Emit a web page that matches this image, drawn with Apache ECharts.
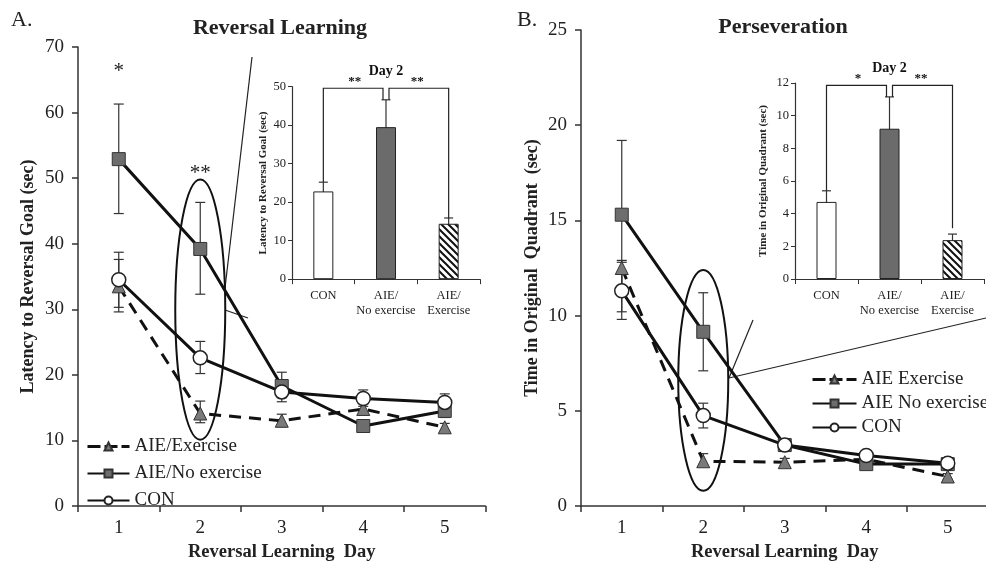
<!DOCTYPE html>
<html><head><meta charset="utf-8">
<script src="https://cdn.jsdelivr.net/npm/echarts@6/dist/echarts.min.js"></script>
<style>html,body{margin:0;padding:0;background:#fff}#c{width:986px;height:561px}</style>
</head><body><div id="c"></div>
<script>
// ---------- data ----------
const days = ['1', '2', '3', '4', '5'];
// Panel A: Reversal Learning (latency, sec)
const aExMean  = [33.5, 14.1, 13.0, 14.8, 12.0];
const aExLow   = [29.6, 12.7, 12.1, 14.0, 11.4];
const aExHigh  = [37.6, 16.0, 14.0, 15.6, 12.6];
const aNoMean  = [52.9, 39.2, 18.3, 12.2, 14.5];
const aNoLow   = [44.6, 32.3, 16.5, 11.6, 13.5];
const aNoHigh  = [61.3, 46.3, 20.4, 12.8, 15.5];
const aConMean = [34.5, 22.6, 17.4, 16.4, 15.8];
const aConLow  = [30.3, 20.2, 15.9, 15.2, 14.6];
const aConHigh = [38.7, 25.1, 18.9, 17.7, 17.1];
// Panel B: Perseveration (time in original quadrant, sec)
const bExMean  = [12.5, 2.35, 2.3, 2.45, 1.55];
const bExLow   = [10.2, 2.1, 2.1, 2.3, 1.4];
const bExHigh  = [12.9, 2.75, 2.5, 2.65, 1.7];
const bNoMean  = [15.3, 9.15, 3.2, 2.2, 2.2];
const bNoLow   = [11.4, 7.1, 3.0, 2.0, 2.0];
const bNoHigh  = [19.2, 11.2, 3.4, 2.4, 2.4];
const bConMean = [11.3, 4.75, 3.2, 2.65, 2.25];
const bConLow  = [9.8, 4.1, 3.0, 2.4, 2.1];
const bConHigh = [12.8, 5.4, 3.4, 2.9, 2.4];
// Insets: Day 2
const insetCats  = ['CON', 'AIE/\nNo exercise', 'AIE/\nExercise'];
const insetAMean = [22.8, 39.5, 14.4];
const insetALow  = [20.3, 32.3, 13.0];
const insetAHigh = [25.2, 46.6, 15.9];
const insetBMean = [4.72, 9.2, 2.38];
const insetBLow  = [4.08, 7.2, 2.0];
const insetBHigh = [5.4, 11.15, 2.75];
// Annotations
const aStars = [[0, 66.3, '*'], [1, 50.7, '**']];
const aEllipse = [1, 10.1, 49.8];   // category, bottom, top
const bEllipse = [1, 0.8, 12.4];
const aBracket = {top: 49.6, midDrop: 46.6, leftDrop: 25.2, rightDrop: 15.9, left: '**', right: '**'};
const bBracket = {top: 11.85, midDrop: 11.15, leftDrop: 5.4, rightDrop: 3.1, left: '*', right: '**'};

// ---------- helpers ----------
const SERIF = '"Liberation Serif", "DejaVu Serif", serif';
function hatch() {
  const c = document.createElement('canvas');
  c.width = 7; c.height = 7;
  const g = c.getContext('2d');
  g.fillStyle = '#fff'; g.fillRect(0, 0, 7, 7);
  g.strokeStyle = '#111'; g.lineWidth = 2;
  g.beginPath();
  g.moveTo(-1, -1); g.lineTo(8, 8);
  g.moveTo(-8, -1); g.lineTo(1, 8);
  g.moveTo(6, -1); g.lineTo(15, 8);
  g.stroke();
  return c;
}
function errData(lo, hi) { return lo.map((v, i) => [i, v, hi[i]]); }
function errSeries(xi, yi, lo, hi, cap, lw) {
  return {
    type: 'custom', xAxisIndex: xi, yAxisIndex: yi, z: 2, silent: true,
    data: errData(lo, hi),
    renderItem: function (params, api) {
      const p1 = api.coord([api.value(0), api.value(1)]);
      const p2 = api.coord([api.value(0), api.value(2)]);
      const h = cap / 2, st = {stroke: '#333', lineWidth: lw};
      return {type: 'group', children: [
        {type: 'line', shape: {x1: p1[0], y1: p1[1], x2: p2[0], y2: p2[1]}, style: st},
        {type: 'line', shape: {x1: p1[0] - h, y1: p1[1], x2: p1[0] + h, y2: p1[1]}, style: st},
        {type: 'line', shape: {x1: p2[0] - h, y1: p2[1], x2: p2[0] + h, y2: p2[1]}, style: st}
      ]};
    }
  };
}
function ellipseSeries(xi, yi, e) {
  return {
    type: 'custom', xAxisIndex: xi, yAxisIndex: yi, z: 1, silent: true,
    data: [e],
    renderItem: function (params, api) {
      const b = api.coord([api.value(0), api.value(1)]);
      const t = api.coord([api.value(0), api.value(2)]);
      return {type: 'ellipse', shape: {cx: b[0], cy: (b[1] + t[1]) / 2, rx: 25, ry: (b[1] - t[1]) / 2},
        style: {fill: 'none', stroke: '#111', lineWidth: 2}};
    }
  };
}
function bracketSeries(xi, yi, br) {
  return {
    type: 'custom', xAxisIndex: xi, yAxisIndex: yi, z: 3, silent: true,
    data: [[0, br.top]],
    renderItem: function (params, api) {
      const L = api.coord([0, br.leftDrop]), Lt = api.coord([0, br.top]);
      const M = api.coord([1, br.midDrop]), Mt = api.coord([1, br.top]);
      const R = api.coord([2, br.rightDrop]), Rt = api.coord([2, br.top]);
      const st = {stroke: '#222', lineWidth: 1.2, fill: 'none'};
      const ts = {fontFamily: SERIF, fontWeight: 'bold', fill: '#111', align: 'center', verticalAlign: 'middle'};
      return {type: 'group', children: [
        {type: 'polyline', shape: {points: [[L[0], L[1]], [L[0], Lt[1]], [M[0] - 3, Mt[1]], [M[0] - 3, M[1]]]}, style: st},
        {type: 'polyline', shape: {points: [[R[0], R[1]], [R[0], Rt[1]], [M[0] + 3, Mt[1]], [M[0] + 3, M[1]]]}, style: st},
        {type: 'text', x: (L[0] + M[0]) / 2, y: Lt[1] - 7, style: Object.assign({text: br.left, fontSize: 13}, ts)},
        {type: 'text', x: (R[0] + M[0]) / 2, y: Lt[1] - 7, style: Object.assign({text: br.right, fontSize: 13}, ts)},
        {type: 'text', x: M[0], y: Lt[1] - 17, style: Object.assign({text: 'Day 2', fontSize: 14}, ts)}
      ]};
    }
  };
}
function starSeries(xi, yi, stars) {
  return {
    type: 'custom', xAxisIndex: xi, yAxisIndex: yi, z: 3, silent: true,
    data: stars.map(s => [s[0], s[1]]),
    renderItem: function (params, api) {
      const p = api.coord([api.value(0), api.value(1)]);
      return {type: 'text', x: p[0], y: p[1], style: {text: stars[params.dataIndex][2], fontFamily: SERIF,
        fontSize: 21, fill: '#222', align: 'center', verticalAlign: 'middle'}};
    }
  };
}
const exStyle = {symbol: 'triangle', symbolSize: 13, itemStyle: {color: '#7a7a7a', borderColor: '#333', borderWidth: 1},
  lineStyle: {color: '#111', width: 3, type: [12, 8]}};
const noStyle = {symbol: 'rect', symbolSize: 13, itemStyle: {color: '#6d6d6d', borderColor: '#333', borderWidth: 1},
  lineStyle: {color: '#111', width: 3, type: 'solid'}};
const conStyle = {symbol: 'circle', symbolSize: 14, itemStyle: {color: '#fff', borderColor: '#222', borderWidth: 1.5},
  lineStyle: {color: '#111', width: 3, type: 'solid'}};
function lineSeries(name, xi, yi, data, st) {
  return Object.assign({type: 'line', name: name, xAxisIndex: xi, yAxisIndex: yi, data: data, z: 4,
    showSymbol: true, animation: false}, JSON.parse(JSON.stringify(st)));
}
const axisLineStyle = {lineStyle: {color: '#333', width: 1.5}};
function mainX(gi, name) {
  return {type: 'category', gridIndex: gi, data: days, boundaryGap: true,
    axisLine: axisLineStyle, axisTick: {show: true, length: 6, lineStyle: {color: '#333', width: 1.5}},
    axisLabel: {fontFamily: SERIF, fontSize: 19, color: '#222', margin: 13},
    name: name, nameLocation: 'middle', nameGap: 34,
    nameTextStyle: {fontFamily: SERIF, fontSize: 18.5, fontWeight: 'bold', color: '#222'}};
}
function mainY(gi, max, interval, name, gap) {
  return {type: 'value', gridIndex: gi, min: 0, max: max, interval: interval,
    axisLine: {show: true, lineStyle: {color: '#333', width: 1.5}},
    axisTick: {show: true, length: 6, lineStyle: {color: '#333', width: 1.5}},
    splitLine: {show: false},
    axisLabel: {fontFamily: SERIF, fontSize: 19, color: '#222', margin: 14},
    name: name, nameLocation: 'middle', nameGap: gap,
    nameTextStyle: {fontFamily: SERIF, fontSize: 18, fontWeight: 'bold', color: '#222'}};
}
function insetX(gi) {
  return {type: 'category', gridIndex: gi, data: insetCats, boundaryGap: true,
    axisLine: {lineStyle: {color: '#333', width: 1.2}},
    axisTick: {show: true, length: 5, lineStyle: {color: '#333'}},
    axisLabel: {fontFamily: SERIF, fontSize: 12.5, color: '#222', margin: 9, lineHeight: 15, interval: 0}};
}
function insetY(gi, max, interval, name, gap) {
  return {type: 'value', gridIndex: gi, min: 0, max: max, interval: interval,
    axisLine: {show: true, lineStyle: {color: '#333', width: 1.2}},
    axisTick: {show: true, length: 4, lineStyle: {color: '#333'}},
    splitLine: {show: false},
    axisLabel: {fontFamily: SERIF, fontSize: 12.5, color: '#222', margin: 6},
    name: name, nameLocation: 'middle', nameGap: gap,
    nameTextStyle: {fontFamily: SERIF, fontSize: 11, fontWeight: 'bold', color: '#222'}};
}
const barStyles = [
  {color: '#fff', borderColor: '#222', borderWidth: 1},
  {color: '#6b6b6b', borderColor: '#222', borderWidth: 1},
  {color: {image: hatch(), repeat: 'repeat'}, borderColor: '#222', borderWidth: 1}
];
function barSeries(xi, yi, vals) {
  return {type: 'bar', xAxisIndex: xi, yAxisIndex: yi, barWidth: 20, z: 2, silent: true,
    data: vals.map((v, i) => ({value: v, itemStyle: barStyles[i]}))};
}
const legendText = {fontFamily: SERIF, fontSize: 19, color: '#222'};
const legendDash = {type: [13, 4], width: 3, color: '#111'};

const chart = echarts.init(document.getElementById('c'), null, {renderer: 'canvas'});
chart.setOption({
  animation: false,
  backgroundColor: '#fff',
  grid: [
    {left: 78, top: 47, width: 407.5, height: 459, outerBoundsMode: 'none'},
    {left: 581, top: 30, width: 407.5, height: 476, outerBoundsMode: 'none'},
    {left: 292, top: 86.7, width: 188, height: 192.5, outerBoundsMode: 'none'},
    {left: 795, top: 83, width: 189, height: 196, outerBoundsMode: 'none'}
  ],
  xAxis: [mainX(0, 'Reversal Learning  Day'), mainX(1, 'Reversal Learning  Day'), insetX(2), insetX(3)],
  yAxis: [
    mainY(0, 70, 10, 'Latency to Reversal Goal (sec)', 41),
    mainY(1, 25, 5, 'Time in Original  Quadrant  (sec)', 40),
    insetY(2, 50, 10, 'Latency to Reversal Goal (sec)', 23),
    insetY(3, 12, 2, 'Time in Original Quadrant (sec)', 26)
  ],
  legend: [
    {orient: 'vertical', left: 81, top: 432, itemWidth: 42, itemHeight: 10, itemGap: 8,
      data: [{name: 'AIE/Exercise', lineStyle: legendDash}, 'AIE/No exercise', 'CON'], textStyle: legendText, selectedMode: false},
    {orient: 'vertical', left: 806, top: 365, itemWidth: 44, itemHeight: 10, itemGap: 5,
      data: [{name: 'AIE Exercise', lineStyle: legendDash}, 'AIE No exercise', 'CON'], textStyle: legendText, selectedMode: false}
  ],
  graphic: [
    {type: 'text', left: 11, top: 9, style: {text: 'A.', fontFamily: SERIF, fontSize: 22, fill: '#222'}},
    {type: 'text', left: 517, top: 9, style: {text: 'B.', fontFamily: SERIF, fontSize: 22, fill: '#222'}},
    {type: 'text', x: 280, y: 28, style: {text: 'Reversal Learning', fontFamily: SERIF, fontSize: 22, fontWeight: 'bold', fill: '#222', align: 'center', verticalAlign: 'middle'}},
    {type: 'text', x: 783, y: 27, style: {text: 'Perseveration', fontFamily: SERIF, fontSize: 22, fontWeight: 'bold', fill: '#222', align: 'center', verticalAlign: 'middle'}},
    {type: 'line', shape: {x1: 252, y1: 57, x2: 225, y2: 288}, style: {stroke: '#222', lineWidth: 1.2}},
    {type: 'line', shape: {x1: 225, y1: 310, x2: 248, y2: 318}, style: {stroke: '#222', lineWidth: 1.2}},
    {type: 'line', shape: {x1: 729, y1: 378, x2: 753, y2: 320}, style: {stroke: '#222', lineWidth: 1.2}},
    {type: 'line', shape: {x1: 729, y1: 378, x2: 986, y2: 318}, style: {stroke: '#222', lineWidth: 1.2}}
  ],
  series: [
    ellipseSeries(0, 0, aEllipse),
    ellipseSeries(1, 1, bEllipse),
    errSeries(0, 0, aExLow, aExHigh, 10, 1.2),
    errSeries(0, 0, aNoLow, aNoHigh, 10, 1.2),
    errSeries(0, 0, aConLow, aConHigh, 10, 1.2),
    errSeries(1, 1, bExLow, bExHigh, 10, 1.2),
    errSeries(1, 1, bNoLow, bNoHigh, 10, 1.2),
    errSeries(1, 1, bConLow, bConHigh, 10, 1.2),
    lineSeries('AIE/Exercise', 0, 0, aExMean, exStyle),
    lineSeries('AIE/No exercise', 0, 0, aNoMean, noStyle),
    lineSeries('CON', 0, 0, aConMean, conStyle),
    lineSeries('AIE Exercise', 1, 1, bExMean, exStyle),
    lineSeries('AIE No exercise', 1, 1, bNoMean, noStyle),
    lineSeries('CON', 1, 1, bConMean, conStyle),
    starSeries(0, 0, aStars),
    barSeries(2, 2, insetAMean),
    barSeries(3, 3, insetBMean),
    errSeries(2, 2, insetALow, insetAHigh, 9, 1.2),
    errSeries(3, 3, insetBLow, insetBHigh, 9, 1.2),
    bracketSeries(2, 2, aBracket),
    bracketSeries(3, 3, bBracket)
  ]
});
</script></body></html>
